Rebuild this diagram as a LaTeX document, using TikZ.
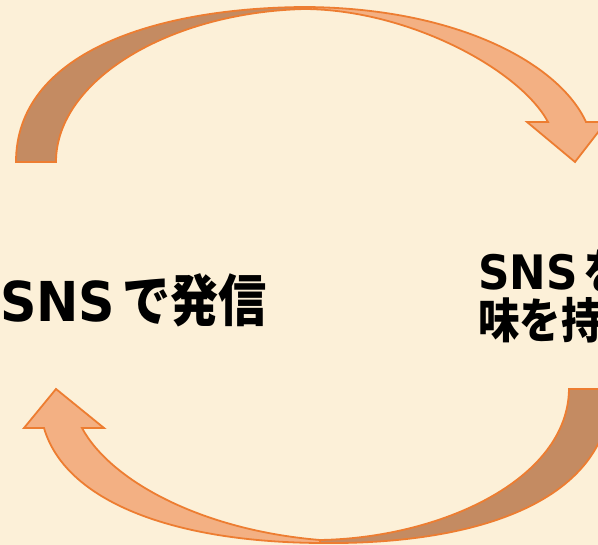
\documentclass[tikz,border=0pt]{standalone}
\usepackage{fontspec}
\usepackage{graphicx}
\newfontfamily\latinf{DejaVu Sans}
\newfontfamily\cjkf{Noto Sans CJK JP}
\definecolor{bgc}{HTML}{FCF0D8}
\definecolor{darkband}{HTML}{C48B62}
\definecolor{lightband}{HTML}{F3B083}
\definecolor{edgec}{HTML}{ED7D31}
\tikzset{
  backband/.style={fill=darkband, draw=edgec, line width=1.8pt, line join=miter},
  frontband/.style={fill=lightband, draw=edgec, line width=1.8pt, line join=miter},
  lbl/.style={inner sep=0pt, anchor=base west, text=black}
}
\newcommand{\bigL}[1]{\scalebox{0.92}[1]{\latinf\bfseries\fontsize{55}{60}\selectfont #1}}
\newcommand{\bigJ}[1]{\scalebox{0.86}[1]{\cjkf\bfseries\fontsize{56}{60}\selectfont #1}}
\newcommand{\smL}[1]{\scalebox{0.92}[1]{\latinf\bfseries\fontsize{47.5}{52}\selectfont #1}}
\newcommand{\smJ}[1]{\scalebox{0.86}[1]{\cjkf\bfseries\fontsize{48.2}{52}\selectfont #1}}
\begin{document}
\begin{tikzpicture}[x=1pt,y=-1pt]
\useasboundingbox (0,0) rectangle (598,545);
\clip (0,0) rectangle (598,545);
\fill[bgc] (0,0) rectangle (598,545);

% top arrow: back (dark) band
\path[backband] (16,162) .. controls (16,55) and (150,8) .. (305,7)
  -- (305,9) .. controls (170,12) and (56,80) .. (56,162) -- cycle;
% top arrow: front (light) band with head
\path[frontband] (305,7) .. controls (460,8) and (560,65) .. (586,122)
  -- (606,122) -- (575,162) -- (527,122) -- (548,122)
  .. controls (520,70) and (410,10) .. (305,9) -- cycle;

% bottom arrow: back (dark) band
\path[backband] (569,389) -- (611,389) .. controls (611,500) and (480,545) .. (320,543)
  -- (320,540) .. controls (440,538) and (568,480) .. (569,389) -- cycle;
% bottom arrow: front (light) band with head
\path[frontband] (56,389) -- (104,428) -- (82,428)
  .. controls (110,480) and (200,530) .. (320,540)
  -- (320,543) .. controls (170,542) and (65,500) .. (44,428)
  -- (24,428) -- cycle;

% texts
\node[lbl] (left) at (0,322) {\bigL{SNS}\hspace{7pt}\bigJ{で発信}};
\node[lbl, text depth=0pt] (right1) at (478,290) {\smL{SNS}\hspace{6pt}\smJ{を}};
\node[lbl, text height=33pt] (right2) at (478,339) {\smJ{味を持}};
\end{tikzpicture}
\end{document}
